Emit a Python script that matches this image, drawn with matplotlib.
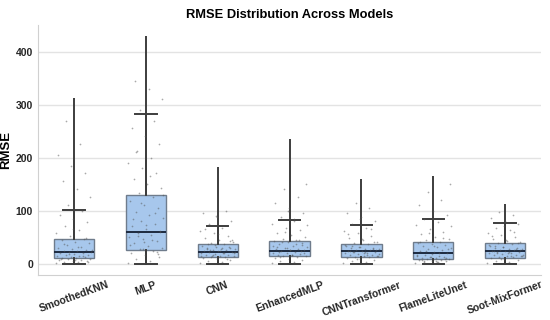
import matplotlib.pyplot as plt
import numpy as np

plt.rcParams['font.family'] = ['Liberation Sans', 'DejaVu Sans']

models = ['SmoothedKNN', 'MLP', 'CNN', 'EnhancedMLP', 'CNNTransformer',
          'FlameLiteUnet', 'Soot-MixFormer']

# box statistics
q1 = [10, 26, 12, 14.5, 12.6, 9.4, 11.3]
med = [22.6, 60, 22.6, 24.5, 24, 20.8, 23]
q3 = [47, 129, 36.5, 43, 37, 40, 38]
whi = [102, 282, 70, 82, 72, 85, 76]
vmin = [0, 0, 0, 0, 0, 0, 0]
vmax = [312, 429, 183, 236, 160, 166, 113]

# sampled RMSE values (estimated from the point cloud)
pts_knn = [1, 2, 3, 4, 5, 6, 7, 8, 9, 10, 11, 12, 13, 14, 15, 16, 17, 18, 19, 20,
           21, 22, 23, 24, 26, 28, 30, 32, 35, 38, 41, 44, 47, 52, 58, 63, 70, 78,
           85, 92, 100, 110, 125, 140, 155, 170, 185, 205, 225, 270, 3, 6, 9, 14,
           18, 25, 31, 36, 48, 66]
pts_mlp = [1, 4, 8, 12, 16, 20, 24, 27, 30, 34, 38, 42, 46, 50, 54, 58, 62, 66, 70,
           75, 80, 86, 92, 98, 104, 110, 118, 126, 134, 142, 150, 160, 170, 180, 190,
           200, 212, 225, 240, 255, 270, 290, 310, 330, 345, 22, 28, 35, 44, 52, 60,
           72, 85, 96, 115, 130, 165, 210, 18, 40]
pts_cnn = [1, 3, 5, 7, 9, 11, 12, 13, 14, 15, 16, 17, 18, 19, 20, 21, 22, 23, 24,
           25, 26, 27, 28, 29, 30, 32, 34, 36, 38, 41, 44, 48, 52, 57, 62, 68, 74,
           80, 88, 96, 100, 15, 19, 23, 27, 31, 35, 14, 20, 26, 45, 55, 65, 8, 17,
           22, 29, 37, 42, 90]
pts_emlp = [1, 3, 5, 7, 9, 11, 13, 14, 15, 16, 17, 18, 19, 20, 22, 24, 25, 26, 27,
            28, 30, 32, 34, 36, 38, 40, 42, 44, 47, 50, 54, 58, 63, 68, 74, 80, 88,
            96, 105, 115, 125, 140, 150, 16, 21, 23, 29, 33, 37, 41, 19, 26, 31, 45,
            60, 72, 85, 12, 35, 100]
pts_cnnt = [1, 3, 5, 7, 9, 11, 12, 13, 14, 15, 16, 17, 18, 19, 20, 21, 22, 23, 24,
            25, 26, 27, 28, 29, 30, 32, 34, 36, 38, 41, 44, 48, 52, 57, 62, 68, 74,
            80, 88, 96, 105, 115, 14, 19, 23, 27, 31, 35, 16, 21, 25, 46, 55, 66, 8,
            18, 22, 33, 40, 85]
pts_flu = [1, 2, 3, 4, 5, 6, 7, 8, 9, 10, 11, 12, 13, 14, 15, 17, 19, 21, 23, 25,
           27, 29, 31, 33, 35, 37, 39, 41, 44, 47, 51, 55, 60, 66, 72, 78, 85, 92,
           100, 110, 120, 135, 150, 4, 6, 9, 12, 16, 20, 24, 28, 34, 40, 48, 58, 70,
           2, 5, 10, 18]
pts_smf = [1, 3, 5, 7, 9, 11, 12, 13, 14, 15, 16, 17, 18, 19, 20, 21, 22, 23, 24,
           25, 26, 27, 28, 29, 30, 32, 34, 36, 38, 40, 43, 46, 50, 54, 58, 63, 68,
           74, 80, 86, 92, 98, 15, 19, 23, 27, 31, 35, 14, 20, 25, 45, 52, 60, 8,
           17, 22, 33, 39, 70]
points = [pts_knn, pts_mlp, pts_cnn, pts_emlp, pts_cnnt, pts_flu, pts_smf]

fig, ax = plt.subplots(figsize=(5.5, 3.2), dpi=100)
fig.subplots_adjust(left=0.069, right=0.984, bottom=0.141, top=0.922)

pos = np.arange(len(models))
ax.grid(axis='y', color='#e3e3e3', lw=1)
ax.set_axisbelow(True)

# full range line from min to max
ax.vlines(pos, vmin, vmax, color='#3d3d3d', lw=1.4, zorder=2)

stats = []
for i in range(len(models)):
    stats.append(dict(med=med[i], q1=q1[i], q3=q3[i], whislo=vmin[i],
                      whishi=whi[i], fliers=[]))
ax.bxp(stats, positions=pos, widths=0.56, patch_artist=True, showfliers=False,
       capwidths=0.3,
       boxprops=dict(facecolor='#a7c7ec', edgecolor='#6f7c8c', lw=1.0),
       medianprops=dict(color='#1d2a40', lw=1.4),
       whiskerprops=dict(color='#3d3d3d', lw=1.4),
       capprops=dict(color='#3d3d3d', lw=1.4),
       zorder=3)

# point cloud on top of the boxes
for i, vals in enumerate(points):
    k = np.arange(len(vals))
    jit = ((k * 0.6180339) % 1.0 - 0.5) * 0.5
    ax.scatter(pos[i] + jit, vals, s=1.5, color='#555555', alpha=0.5,
               linewidths=0, zorder=4)

ax.set_xticks(pos)
ax.set_xticklabels(models, rotation=20, ha='center', fontsize=7.5, fontweight='bold')
ax.set_xlim(-0.5, len(models) - 0.5)
ax.margins(y=0.05)
ax.set_yticks([0, 100, 200, 300, 400])
for lab in ax.get_yticklabels():
    lab.set_fontweight('bold')
    lab.set_fontsize(7.5)
ax.tick_params(length=0, colors='#262626', pad=3.5)
ax.set_ylabel('RMSE', fontsize=9.5, fontweight='bold', labelpad=3)
ax.set_title('RMSE Distribution Across Models', fontsize=9.3, fontweight='bold', pad=5)

for s in ['top', 'right']:
    ax.spines[s].set_visible(False)
for s in ['left', 'bottom']:
    ax.spines[s].set_color('#d0d0d0')

fig.savefig('out.png', dpi=100)
